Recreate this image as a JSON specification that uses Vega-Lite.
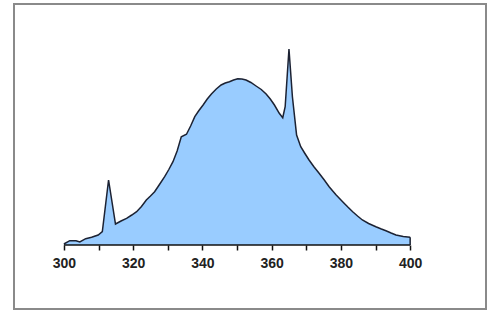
{
  "$schema": "https://vega.github.io/schema/vega-lite/v6.json",
  "width": 472,
  "height": 305,
  "autosize": "none",
  "padding": {"left": 14, "top": 4, "right": 5, "bottom": 2},
  "background": "white",
  "config": {"view": {"stroke": "#8a8a8a", "strokeWidth": 2}},
  "data": {"values": [
    {"wl": 300, "v": 1},
    {"wl": 301.7, "v": 4.3},
    {"wl": 303.5, "v": 4.3},
    {"wl": 304.6, "v": 3},
    {"wl": 306.3, "v": 6.3},
    {"wl": 308, "v": 7.7},
    {"wl": 309.9, "v": 10},
    {"wl": 311.1, "v": 13.3},
    {"wl": 312.9, "v": 65},
    {"wl": 314.9, "v": 21},
    {"wl": 316.5, "v": 24},
    {"wl": 318.1, "v": 26.7},
    {"wl": 319.6, "v": 30},
    {"wl": 321, "v": 33.3},
    {"wl": 322.4, "v": 38.5},
    {"wl": 323.8, "v": 45},
    {"wl": 325, "v": 49},
    {"wl": 326.2, "v": 53.3},
    {"wl": 327.6, "v": 60.5},
    {"wl": 329.1, "v": 68.3},
    {"wl": 330.3, "v": 75.5},
    {"wl": 331.5, "v": 83.3},
    {"wl": 332.7, "v": 94},
    {"wl": 333.9, "v": 108.3},
    {"wl": 335.4, "v": 110.7},
    {"wl": 336.6, "v": 119},
    {"wl": 337.8, "v": 128.3},
    {"wl": 339, "v": 134.5},
    {"wl": 340.2, "v": 140},
    {"wl": 341.4, "v": 146},
    {"wl": 342.6, "v": 151},
    {"wl": 344, "v": 156},
    {"wl": 345.4, "v": 160},
    {"wl": 346.6, "v": 162},
    {"wl": 347.8, "v": 163.3},
    {"wl": 349, "v": 165},
    {"wl": 350.2, "v": 166.3},
    {"wl": 351.4, "v": 166},
    {"wl": 352.6, "v": 165},
    {"wl": 354, "v": 162.5},
    {"wl": 355.5, "v": 159},
    {"wl": 357, "v": 155.5},
    {"wl": 358.4, "v": 151},
    {"wl": 359.6, "v": 146},
    {"wl": 360.8, "v": 140},
    {"wl": 362.2, "v": 131.7},
    {"wl": 363.2, "v": 127.3},
    {"wl": 363.9, "v": 138.3},
    {"wl": 365, "v": 196},
    {"wl": 366, "v": 148},
    {"wl": 367.2, "v": 110},
    {"wl": 368.4, "v": 98.3},
    {"wl": 369.6, "v": 91.5},
    {"wl": 370.8, "v": 85},
    {"wl": 372.2, "v": 78.3},
    {"wl": 373.7, "v": 71.7},
    {"wl": 375.2, "v": 65},
    {"wl": 376.6, "v": 58.3},
    {"wl": 378.5, "v": 50.5},
    {"wl": 380.5, "v": 43.3},
    {"wl": 382, "v": 38},
    {"wl": 383.4, "v": 33.3},
    {"wl": 384.8, "v": 29},
    {"wl": 386.2, "v": 25},
    {"wl": 388, "v": 21.5},
    {"wl": 390.1, "v": 18.3},
    {"wl": 391.5, "v": 16.3},
    {"wl": 393, "v": 14.3},
    {"wl": 394.5, "v": 12},
    {"wl": 395.9, "v": 10},
    {"wl": 398, "v": 8.5},
    {"wl": 400, "v": 7.7}
  ]},
  "layer": [
    {
      "mark": {"type": "area", "color": "#99ccff", "opacity": 1},
      "encoding": {
        "x": {
          "field": "wl", "type": "quantitative",
          "scale": {"domain": [285.59, 421.9], "nice": false, "zero": false},
          "axis": {
            "title": null, "domain": false, "grid": false,
            "values": [300,305,310,315,320,325,330,335,340,345,350,355,360,365,370,375,380,385,390,395,400],
            "labelExpr": "datum.value % 20 === 0 ? datum.label : ''",
            "offset": -64, "tickSize": 5, "tickColor": "#111", "tickWidth": 1.5,
            "labelFont": "Liberation Sans", "labelFontSize": 14, "labelFontWeight": "bold",
            "labelColor": "#222", "labelPadding": 6, "labelFlush": false
          }
        },
        "y": {
          "field": "v", "type": "quantitative",
          "scale": {"domain": [-64, 241], "nice": false, "zero": false},
          "axis": null
        },
        "y2": {"datum": 0}
      }
    },
    {
      "mark": {"type": "line", "color": "#1c2233", "strokeWidth": 1.5},
      "encoding": {
        "x": {"field": "wl", "type": "quantitative"},
        "y": {"field": "v", "type": "quantitative"}
      }
    },
    {
      "data": {"values": [{"a": 300, "b": 400, "z": 0}]},
      "mark": {"type": "rule", "color": "#111", "strokeWidth": 1.5},
      "encoding": {
        "x": {"field": "a", "type": "quantitative"},
        "x2": {"field": "b"},
        "y": {"field": "z", "type": "quantitative"}
      }
    },
    {
      "data": {"values": [{"x": 400, "y0": 0, "y1": 7.7}]},
      "mark": {"type": "rule", "color": "#1c2233", "strokeWidth": 1.5},
      "encoding": {
        "x": {"field": "x", "type": "quantitative"},
        "y": {"field": "y0", "type": "quantitative"},
        "y2": {"field": "y1"}
      }
    }
  ]
}
